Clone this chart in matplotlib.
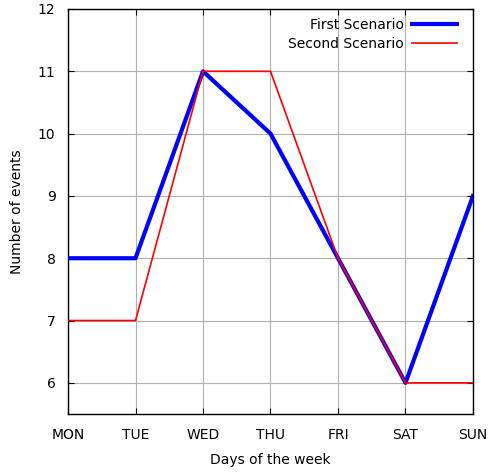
import matplotlib
matplotlib.use("Agg")
import matplotlib.pyplot as plt

days = ["MON", "TUE", "WED", "THU", "FRI", "SAT", "SUN"]
first_scenario = [8, 8, 11, 10, 8, 6, 9]
second_scenario = [7, 7, 11, 11, 8, 6, 6]
y_ticks = [6, 7, 8, 9, 10, 11, 12]

plt.rcParams['font.family'] = ['DejaVu Sans']
fig = plt.figure(figsize=(4.89, 4.72), dpi=100)
ax = fig.add_axes([68/489, 58/472, (473-68)/489, (414-9)/472])

x = list(range(len(days)))
ax.plot(x, first_scenario, color="#0000ff", lw=3.0, label="First Scenario", zorder=3)
ax.plot(x, second_scenario, color="#ff0000", lw=1.2, label="Second Scenario", zorder=4)

ax.set_xlim(0, len(days) - 1)
ax.set_ylim(5.5, 12)
ax.set_xticks(x)
ax.set_xticklabels(days, fontsize=10)
ax.set_yticks(y_ticks)
ax.set_yticklabels([str(v) for v in y_ticks], fontsize=10)
ax.tick_params(direction="in", length=4, width=0.8, top=True, right=True)
ax.tick_params(axis="x", pad=10)
ax.tick_params(axis="y", pad=9)
ax.grid(True, color="#b0b0b0", lw=0.8)
ax.set_axisbelow(True)
for s in ax.spines.values():
    s.set_linewidth(1.0)

ax.set_xlabel("Days of the week", fontsize=10, labelpad=8)
ax.set_ylabel("Number of events", fontsize=10, labelpad=10)

leg = ax.legend(loc="upper right", frameon=False, markerfirst=False, fontsize=10,
                handlelength=3.2, handletextpad=0.6, borderaxespad=0.0,
                borderpad=0.0, labelspacing=0.35,
                bbox_to_anchor=(0.96, 0.977))
for t in leg.get_texts():
    t.set_ha("right")

fig.savefig("out.png", dpi=100)
